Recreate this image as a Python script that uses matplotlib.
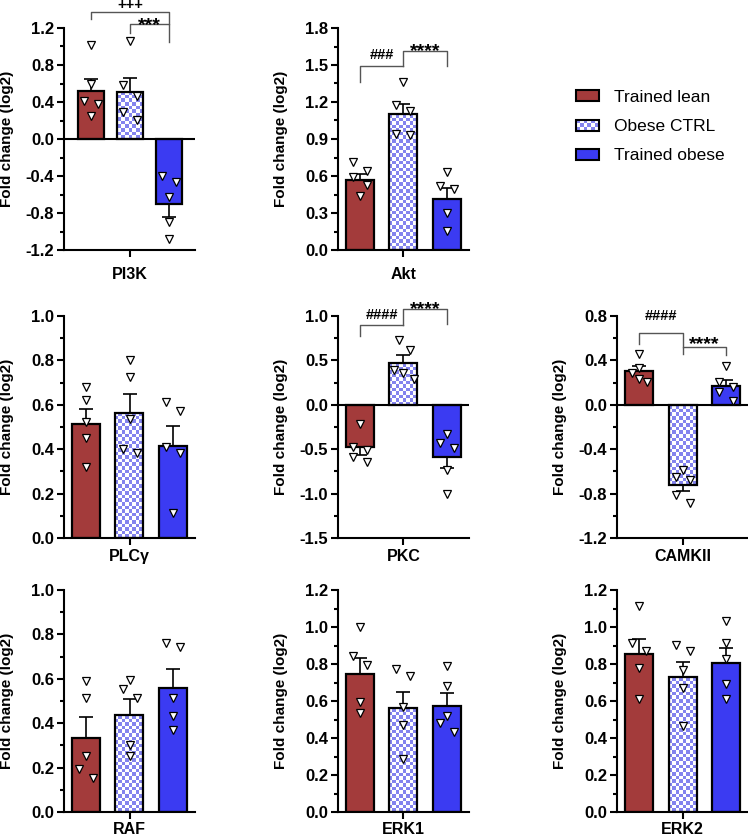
import matplotlib
matplotlib.use('Agg')
import matplotlib.pyplot as plt
import numpy as np
from matplotlib.colors import ListedColormap
from matplotlib.patches import Rectangle, Patch
from matplotlib.legend_handler import HandlerBase
from matplotlib.ticker import MultipleLocator, FormatStrFormatter

plt.rcParams['font.family'] = ['Liberation Sans', 'DejaVu Sans']
plt.rcParams['font.weight'] = 'bold'

# ---- data ----
panels = ['PI3K', 'Akt', 'PLCγ', 'PKC', 'CAMKII', 'RAF', 'ERK1', 'ERK2']
groups = ['Trained lean', 'Obese CTRL', 'Trained obese']

mean_lean = [0.52, 0.57, 0.515, -0.48, 0.30, 0.335, 0.745, 0.853]
mean_ctrl = [0.51, 1.10, 0.565, 0.47, -0.72, 0.436, 0.562, 0.729]
mean_obese = [-0.70, 0.41, 0.415, -0.59, 0.165, 0.558, 0.575, 0.806]

sem_lean = [0.13, 0.05, 0.067, 0.087, 0.05, 0.094, 0.087, 0.083]
sem_ctrl = [0.15, 0.08, 0.085, 0.094, 0.06, 0.073, 0.088, 0.083]
sem_obese = [0.14, 0.09, 0.09, 0.12, 0.06, 0.086, 0.068, 0.079]

pts_lean = [
    [1.016, 0.60, 0.415, 0.375, 0.253],
    [0.711, 0.643, 0.589, 0.527, 0.438],
    [0.681, 0.621, 0.521, 0.449, 0.322],
    [-0.217, -0.471, -0.508, -0.583, -0.647],
    [0.462, 0.333, 0.282, 0.228, 0.207],
    [0.591, 0.513, 0.251, 0.192, 0.151],
    [0.999, 0.844, 0.792, 0.594, 0.535],
    [1.114, 0.916, 0.871, 0.781, 0.611],
]
pts_ctrl = [
    [1.056, 0.584, 0.469, 0.296, 0.206],
    [1.359, 1.173, 1.127, 0.941, 0.932],
    [0.801, 0.723, 0.534, 0.400, 0.382],
    [0.734, 0.622, 0.397, 0.360, 0.296],
    [-0.586, -0.652, -0.676, -0.811, -0.886],
    [0.596, 0.554, 0.513, 0.304, 0.251],
    [0.774, 0.733, 0.566, 0.472, 0.287],
    [0.903, 0.871, 0.769, 0.670, 0.463],
]
pts_obese = [
    [-0.395, -0.46, -0.622, -0.902, -1.08],
    [0.635, 0.522, 0.492, 0.303, 0.157],
    [0.611, 0.572, 0.412, 0.382, 0.112],
    [-0.329, -0.426, -0.490, -0.733, -1.003],
    [0.348, 0.207, 0.162, 0.117, 0.033],
    [0.763, 0.742, 0.513, 0.434, 0.371],
    [0.790, 0.682, 0.517, 0.481, 0.433],
    [1.033, 0.916, 0.826, 0.691, 0.611],
]
# horizontal spread of the scatter points (steps left/right of bar centre)
spread_lean = [[0, 0, -1, 1, 0], [-1, 1, -1, 1, 0], [0, 0, 0, 0, 0], [0, -1, 1, -1, 1],
               [0, 0, -1, 0, 1.2], [0, 0, 0, -1, 1], [0, -1, 1, 0, 0], [0, -1, 1, 0, 0]]
spread_ctrl = [[0, -1, 1, -1, 1], [0, -1, 1, -1, 1], [0, 0, 0, -1, 1], [-0.7, 0.9, -1.3, 0, 1.45],
               [0, -1, 1, -1, 1], [0, -1, 1, 0, 0], [-1, 1, 0, 0, 0], [-1, 1, 0, 0, 0]]
spread_obese = [[-1, 1, 0, 0, 0], [0, -1, 1, 0, 0], [-1, 1, -1, 1, 0], [0, -1, 1, 0, 0],
                [0, -1, 1, -1, 1], [-1, 1, 0, 0, 0], [0, 0, 0, -1, 1], [0, 0, 0, 0, 0]]

# y ranges and tick steps
y_min = [-1.2, 0.0, 0.0, -1.5, -1.2, 0.0, 0.0, 0.0]
y_max = [1.2, 1.8, 1.0, 1.0, 0.8, 1.0, 1.2, 1.2]
y_step = [0.4, 0.3, 0.2, 0.5, 0.4, 0.2, 0.2, 0.2]

# significance brackets: (x1, x2, y line, y leg1, y leg2, label, y text)
brackets = {
    'PI3K': [(0, 2, 1.377, 1.294, 1.243, '+++', 1.459),
             (1, 2, 1.243, 1.142, 1.052, '***', 1.294)],
    'Akt': [(0, 1, 1.495, 1.365, 1.495, '###', 1.594),
            (1, 2, 1.616, 1.495, 1.495, '****', 1.662)],
    'PKC': [(0, 1, 0.903, 0.772, 0.903, '####', 1.026),
            (1, 2, 1.075, 0.903, 0.914, '****', 1.146)],
    'CAMKII': [(0, 1, 0.647, 0.551, 0.522, '####', 0.815),
               (1, 2, 0.522, 0.462, 0.447, '****', 0.596)],
}

c_lean = '#A33B3B'
c_obese = '#3B3BF2'
c_check = '#8383EE'

W, H = 748, 839
fig = plt.figure(figsize=(W / 100, H / 100), dpi=100)

col_left = [64, 338, 617]
row_top = [28, 316, 590]
row_pad = [7, 3, 2.5]
ax_w, ax_h = 131, 222
grid = [(0, 0), (0, 1), (1, 0), (1, 1), (1, 2), (2, 0), (2, 1), (2, 2)]
check_cmap = ListedColormap(['white', c_check])
jit_px = 7.0

for i, name in enumerate(panels):
    r, c = grid[i]
    ax = fig.add_axes([col_left[c] / W, 1 - (row_top[r] + ax_h) / H, ax_w / W, ax_h / H])
    if name == 'PI3K':
        xlim = (-0.69, 2.67)
    else:
        xlim = (-0.5, 2.5)
    px_unit = ax_w / (xlim[1] - xlim[0])
    bw = 28 / px_unit if name != 'PI3K' else 26 / px_unit
    xs = np.arange(3)
    means = [mean_lean[i], mean_ctrl[i], mean_obese[i]]
    sems = [sem_lean[i], sem_ctrl[i], sem_obese[i]]
    pts = [pts_lean[i], pts_ctrl[i], pts_obese[i]]
    spreads = [spread_lean[i], spread_ctrl[i], spread_obese[i]]

    ax.set_xlim(xlim)
    ax.set_ylim(y_min[i], y_max[i])

    bars = ax.bar(xs, means, width=bw, color=[c_lean, 'white', c_obese],
                  edgecolor='none', zorder=2)
    # checker pattern for the Obese CTRL bar
    rect = bars[1]
    bb = rect.get_window_extent()
    nx = max(1, int(round(bb.width / 3.6)))
    ny = max(1, int(round(bb.height / 3.6)))
    img = np.indices((ny, nx)).sum(axis=0) % 2
    x0, y0 = rect.get_x(), rect.get_y()
    x1, y1 = x0 + rect.get_width(), y0 + rect.get_height()
    im = ax.imshow(img, extent=(x0, x1, min(y0, y1), max(y0, y1)), cmap=check_cmap,
                   interpolation='nearest', aspect='auto', zorder=2.1, origin='lower')
    im.set_clip_path(rect)
    ax.bar(xs, means, width=bw, fill=False, edgecolor='black', linewidth=1.6, zorder=2.2)

    for j in range(3):
        if means[j] >= 0:
            yerr = [[0], [sems[j]]]
        else:
            yerr = [[sems[j]], [0]]
        ax.errorbar([xs[j]], [means[j]], yerr=yerr, fmt='none', ecolor='black',
                    elinewidth=1.2, capsize=5, capthick=1.2, zorder=2.5)
        px = xs[j] + np.array(spreads[j]) * jit_px / px_unit
        ax.plot(px, pts[j], linestyle='none', marker='v', markersize=5.4,
                markerfacecolor='white', markeredgecolor='black', markeredgewidth=0.9,
                zorder=4, clip_on=False)

    if y_min[i] < 0:
        ax.axhline(0, color='black', linewidth=1.5, zorder=3)

    for (xa, xb, yl, ya, yb, lab, yt) in brackets.get(name, []):
        ax.plot([xa, xa, xb, xb], [ya, yl, yl, yb], color='#555555', linewidth=1.0,
                clip_on=False, zorder=3)
        dy = -4.5 if '*' in lab else -1
        fs = 14 if '*' in lab else 10.5
        ax.annotate(lab, xy=((xa + xb) / 2, yt), xytext=(0, dy), textcoords='offset points',
                    ha='center', va='center', fontsize=fs, fontweight='bold',
                    annotation_clip=False)

    ax.set_xlim(xlim)
    ax.set_ylim(y_min[i], y_max[i])
    ax.yaxis.set_major_locator(MultipleLocator(y_step[i]))
    ax.yaxis.set_minor_locator(MultipleLocator(y_step[i] / 2))
    ax.yaxis.set_major_formatter(FormatStrFormatter('%.1f'))
    ax.set_xticks([1])
    ax.set_xticklabels([name])
    ax.tick_params(axis='y', which='major', length=5, width=1.5, labelsize=12, pad=2)
    ax.tick_params(axis='y', which='minor', length=3, width=1.5)
    ax.tick_params(axis='x', length=5, width=1.5, labelsize=11.5, pad=row_pad[r])
    for s in ['top', 'right']:
        ax.spines[s].set_visible(False)
    for s in ['left', 'bottom']:
        ax.spines[s].set_linewidth(1.5)
    ax.set_ylabel('Fold change (log2)', fontsize=11, fontweight='bold')
    ax.yaxis.set_label_coords(-50 / ax_w, 0.5)
    ax.patch.set_alpha(0)


class CheckerHandler(HandlerBase):
    def create_artists(self, legend, orig_handle, xdescent, ydescent, width, height,
                       fontsize, trans):
        arts = [Rectangle((-xdescent, -ydescent), width, height, facecolor='white',
                          edgecolor='none', transform=trans)]
        nx, ny = 6, 3
        cw, ch = width / nx, height / ny
        for a in range(nx):
            for b in range(ny):
                if (a + b) % 2 == 0:
                    arts.append(Rectangle((-xdescent + a * cw, -ydescent + b * ch), cw, ch,
                                          facecolor=c_check, edgecolor='none', transform=trans))
        arts.append(Rectangle((-xdescent, -ydescent), width, height, facecolor='none',
                              edgecolor='black', linewidth=1.5, transform=trans))
        return arts


h_lean = Patch(facecolor=c_lean, edgecolor='black', linewidth=1.5)
h_ctrl = Patch(facecolor='white', edgecolor='black', linewidth=1.5)
h_obese = Patch(facecolor=c_obese, edgecolor='black', linewidth=1.5)
fig.legend(handles=[h_lean, h_ctrl, h_obese], labels=groups,
           handler_map={h_ctrl: CheckerHandler()},
           loc='upper left', bbox_to_anchor=(576 / W, 1 - 90 / H), frameon=False,
           prop={'weight': 'normal', 'size': 12.5}, handlelength=1.32, handleheight=0.58,
           handletextpad=0.85, labelspacing=0.82, borderpad=0, borderaxespad=0)

fig.savefig('out.png', dpi=100)
